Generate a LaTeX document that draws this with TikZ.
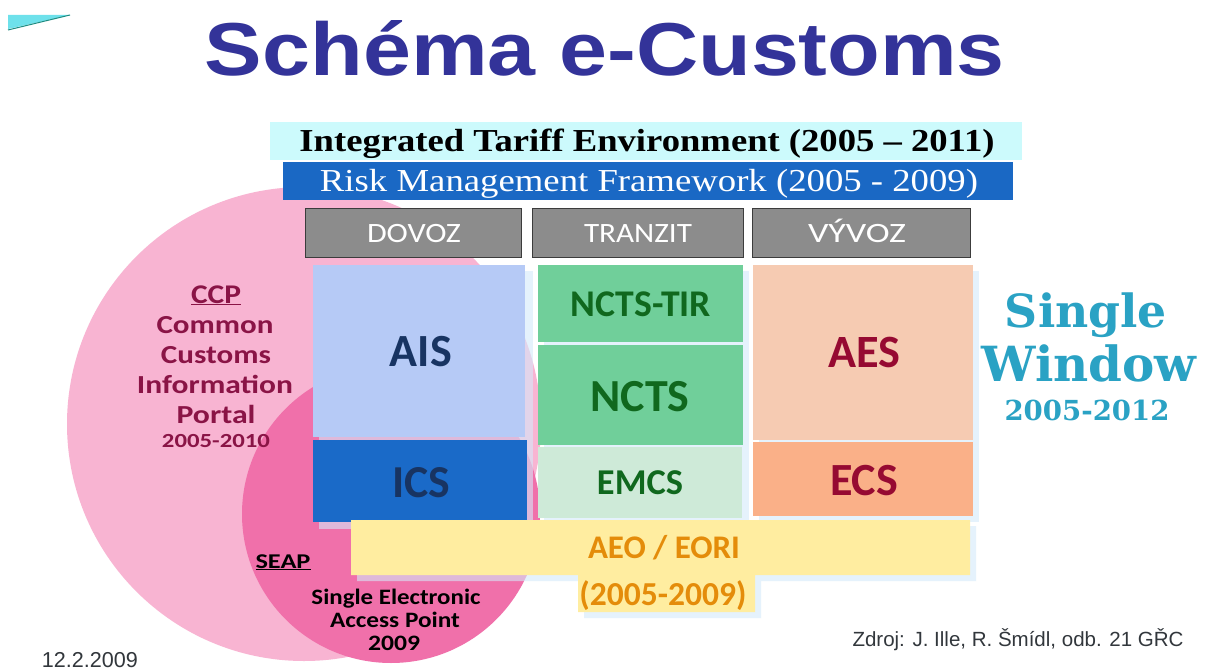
\documentclass[tikz,border=0pt]{standalone}
\usepackage{fontspec}
\usepackage{graphicx}
\setmainfont{Liberation Serif}
\newfontfamily\arialf{Liberation Sans}
\newfontfamily\calibf{Carlito}
\newfontfamily\cambf{DejaVu Serif}
\newcommand{\fitw}[2]{\resizebox{#1pt}{!}{#2}}
\newcommand{\fitws}[3]{\resizebox{#1pt}{\height}{\fontsize{#2pt}{#2pt}\selectfont #3}}
\definecolor{titleblue}{RGB}{51,51,153}
\definecolor{itecyan}{RGB}{204,250,252}
\definecolor{rmfblue}{RGB}{26,104,196}
\definecolor{hdrgray}{RGB}{140,140,140}
\definecolor{hdrborder}{RGB}{60,60,60}
\definecolor{aisblue}{RGB}{182,202,246}
\definecolor{icsblue}{RGB}{26,106,200}
\definecolor{navytext}{RGB}{24,52,98}
\definecolor{nctsgreen}{RGB}{112,207,154}
\definecolor{emcsgreen}{RGB}{206,234,216}
\definecolor{greentext}{RGB}{16,104,30}
\definecolor{aespeach}{RGB}{246,203,178}
\definecolor{ecssalmon}{RGB}{250,176,136}
\definecolor{redtext}{RGB}{150,10,50}
\definecolor{aeoyellow}{RGB}{255,237,160}
\definecolor{aeoorange}{RGB}{228,140,10}
\definecolor{pinklight}{RGB}{248,180,210}
\definecolor{pinkdark}{RGB}{240,112,170}
\definecolor{ccptext}{RGB}{138,20,70}
\definecolor{swteal}{RGB}{42,162,196}
\definecolor{footgray}{RGB}{50,55,60}
\definecolor{shadowcyan}{RGB}{212,234,250}
\definecolor{decocyan}{RGB}{110,225,235}
\definecolor{decoteal}{RGB}{30,140,130}
\begin{document}
\begin{tikzpicture}[x=1pt,y=-1pt,
  every node/.style={inner sep=0pt,outer sep=0pt},
  hdrbox/.style={fill=hdrgray,draw=hdrborder,line width=1pt,text=white,minimum height=48},
  softshadow/.style={fill=shadowcyan,fill opacity=0.6},
  basetext/.style={anchor=base}]
\useasboundingbox (0,0) rectangle (1218,671);
\fill[white] (0,0) rectangle (1218,671);
% corner decoration
\fill[decocyan] (8,15) -- (70,15) -- (8,29) -- cycle;
\draw[decoteal,line width=1pt] (8,30) -- (70,15);
% circles
\fill[pinklight] (304,424) circle[radius=237pt];
\fill[pinkdark] (391,514) circle[radius=149pt];
% title
\node[basetext] (title) at (605,76) {\fitws{800}{75}{\arialf\bfseries\color{titleblue}Schéma e-Customs}};
% header bands
\node[fill=itecyan,minimum width=752,minimum height=38] (ite) at (646,141) {};
\node[basetext] (itet) at (647,152) {\fitws{695}{32}{\bfseries Integrated Tariff Environment (2005 – 2011)}};
\node[fill=rmfblue,minimum width=730,minimum height=38] (rmf) at (648,181) {};
\node[basetext] (rmft) at (649,192) {\fitws{658}{32}{\color{white}Risk Management Framework (2005 - 2009)}};
% column headers
\node[hdrbox,minimum width=216] (dovoz) at (413,233) {};
\node[basetext] (dovozt) at (414,243) {\fitws{94}{28}{\calibf\color{white}DOVOZ}};
\node[hdrbox,minimum width=211] (tranzit) at (637.5,233) {};
\node[basetext] (tranzitt) at (638,243) {\fitws{108}{28}{\calibf\color{white}TRANZIT}};
\node[hdrbox,minimum width=218] (vyvoz) at (861,233) {};
\node[basetext] (vyvozt) at (857,243) {\fitws{98}{28}{\calibf\color{white}VÝVOZ}};
% shadows of the system blocks
\fill[softshadow] (319,271) rectangle (533,529);
\fill[softshadow] (544,271) rectangle (749,524);
\fill[softshadow] (759,271) rectangle (979,522);
% systems
\node[fill=aisblue,minimum width=212,minimum height=172] (ais) at (419,351) {};
\node[basetext] (aist) at (421,366) {\fitw{62}{\calibf\bfseries\color{navytext}AIS}};
\node[fill=icsblue,minimum width=214,minimum height=82] (ics) at (420,481) {};
\node[basetext] (icst) at (421,497) {\fitw{58}{\calibf\bfseries\color{navytext}ICS}};
\node[fill=nctsgreen,minimum width=205,minimum height=77] (tir) at (640.5,303.5) {};
\node[basetext] (tirt) at (641,316) {\fitw{140}{\calibf\bfseries\color{greentext}NCTS-TIR}};
\node[fill=nctsgreen,minimum width=205,minimum height=100] (ncts) at (640.5,395) {};
\node[basetext] (nctst) at (640,411) {\fitw{99}{\calibf\bfseries\color{greentext}NCTS}};
\node[fill=emcsgreen,minimum width=204,minimum height=71] (emcs) at (640,482.5) {};
\node[basetext] (emcst) at (640,494) {\fitw{86}{\calibf\bfseries\color{greentext}EMCS}};
\node[fill=aespeach,minimum width=220,minimum height=175] (aes) at (863,352.5) {};
\node[basetext] (aest) at (864,367) {\fitw{72}{\calibf\bfseries\color{redtext}AES}};
\node[fill=ecssalmon,minimum width=220,minimum height=74] (ecs) at (863,479) {};
\node[basetext] (ecst) at (864,495) {\fitw{68}{\calibf\bfseries\color{redtext}ECS}};
% AEO / EORI
\fill[softshadow] (357,526) -- (976,526) -- (976,581) -- (761,581) -- (761,618) -- (584,618) -- (584,581) -- (357,581) -- cycle;
\fill[aeoyellow] (351,520) -- (970,520) -- (970,575) -- (755,575) -- (755,612) -- (578,612) -- (578,575) -- (351,575) -- cycle;
\node[basetext] (aeo) at (664,558) {\fitw{152}{\calibf\bfseries\color{aeoorange}AEO / EORI}};
\node[basetext] (aeoyr) at (663,605) {\fitw{167}{\calibf\bfseries\color{aeoorange}(2005-2009)}};
% CCP text
\node[basetext] (ccp) at (216,303) {\fitws{50}{27}{\calibf\bfseries\color{ccptext}\underline{CCP}}};
\node[basetext] (ccp1) at (215,333) {\fitws{117}{26}{\calibf\bfseries\color{ccptext}Common}};
\node[basetext] (ccp2) at (216,363) {\fitws{110}{26}{\calibf\bfseries\color{ccptext}Customs}};
\node[basetext] (ccp3) at (215,393) {\fitws{156}{26}{\calibf\bfseries\color{ccptext}Information}};
\node[basetext] (ccp4) at (216,423) {\fitws{79}{26}{\calibf\bfseries\color{ccptext}Portal}};
\node[basetext] (ccp5) at (216,447) {\fitws{108}{20}{\calibf\bfseries\color{ccptext}2005-2010}};
% SEAP text
\node[basetext] (seap) at (283,568) {\fitws{55}{21}{\calibf\bfseries\underline{SEAP}}};
\node[basetext] (seap1) at (396,604) {\fitws{169}{22}{\calibf\bfseries Single Electronic}};
\node[basetext] (seap2) at (395,627) {\fitws{130}{22}{\calibf\bfseries Access Point}};
\node[basetext] (seap3) at (394,650) {\fitws{52}{22}{\calibf\bfseries 2009}};
% Single Window
\node[basetext] (sw1) at (1086,327) {\fitw{162}{\cambf\bfseries\color{swteal}Single}};
\node[basetext] (sw2) at (1089,381) {\fitw{215}{\cambf\bfseries\color{swteal}Window}};
\node[basetext] (sw3) at (1087,420) {\fitw{165}{\cambf\bfseries\color{swteal}2005-2012}};
% footer
\node[basetext] (date) at (90,667) {\fitw{96}{\arialf\color{footgray}12.2.2009}};
\node[basetext] (zdroj) at (1018,646) {\fitw{331}{\arialf\color{footgray}Zdroj: J. Ille, R. Šmídl, odb. 21 GŘC}};
\end{tikzpicture}
\end{document}
